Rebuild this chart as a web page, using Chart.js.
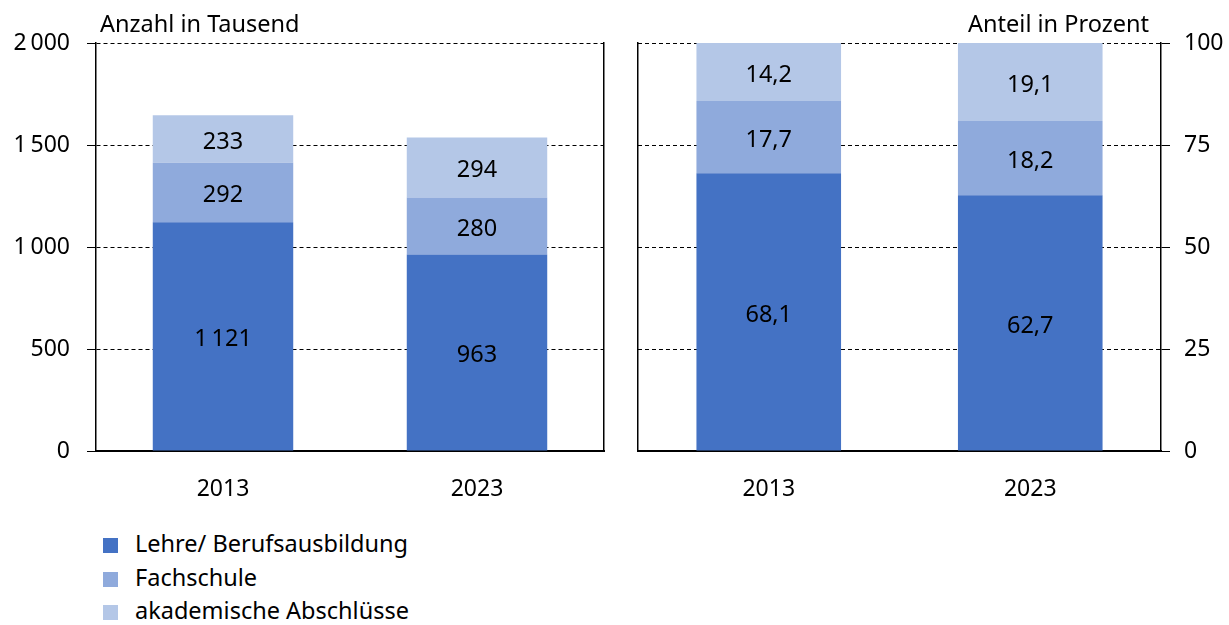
<!DOCTYPE html>
<html lang="de">
<head>
<meta charset="UTF-8">
<title>Anzahl und Anteil nach Abschluss</title>
<script src="https://cdn.jsdelivr.net/npm/chart.js"></script>
<style>
  body { margin: 0; background: #fff; font-family: "Noto Sans", sans-serif; }
  #wrap { position: relative; width: 1229px; height: 625px; }
  .panel { position: absolute; top: 0; height: 515px; }
  #links { left: 0; width: 615px; }
  #rechts { left: 620px; width: 609px; }
  .titel { position: absolute; top: 7px; font-size: 23.5px; color: #000; white-space: nowrap; }
  .legende { position: absolute; left: 103px; top: 527px; font-size: 23.5px; color: #000; }
  .legende div { height: 33.5px; line-height: 33.5px; white-space: nowrap; }
  .legende span { display: inline-block; width: 15px; height: 15px; margin-right: 17px; vertical-align: -1px; }
</style>
</head>
<body>
<div id="wrap">
  <div class="panel" id="links"><canvas id="chartAnzahl"></canvas></div>
  <div class="panel" id="rechts"><canvas id="chartAnteil"></canvas></div>
  <div class="titel" style="left:100px">Anzahl in Tausend</div>
  <div class="titel" style="right:80px">Anteil in Prozent</div>
  <div class="legende" id="legende"></div>
</div>

<script>
  // Daten
  const jahre = ['2013', '2023'];
  const abschluesse = ['Lehre/ Berufsausbildung', 'Fachschule', 'akademische Abschlüsse'];
  const lehreAnzahl = [1121, 963];
  const fachschuleAnzahl = [292, 280];
  const akademischAnzahl = [233, 294];
  const lehreAnteil = [68.1, 62.7];
  const fachschuleAnteil = [17.7, 18.2];
  const akademischAnteil = [14.2, 19.1];
  const ticksAnzahl = [0, 500, 1000, 1500, 2000];
  const ticksAnteil = [0, 25, 50, 75, 100];

  const farben = ['#4472C4', '#8FAADC', '#B4C7E7'];

  Chart.defaults.font.family = '"Noto Sans", sans-serif';
  Chart.defaults.font.size = 23;
  Chart.defaults.color = '#000';

  function tausender(v) {
    return String(v).replace(/\B(?=(\d{3})+(?!\d))/g, '\u2009');
  }
  function komma(v) {
    return v.toFixed(1).replace('.', ',');
  }

  // Werte in die Balken schreiben
  const balkenWerte = {
    id: 'balkenWerte',
    afterDatasetsDraw(chart, args, opts) {
      const ctx = chart.ctx;
      ctx.save();
      ctx.font = '23.5px "Noto Sans", sans-serif';
      ctx.fillStyle = '#000';
      ctx.textAlign = 'center';
      ctx.textBaseline = 'middle';
      chart.data.datasets.forEach(function (ds, i) {
        chart.getDatasetMeta(i).data.forEach(function (bar, j) {
          ctx.fillText(opts.format(ds.data[j]), bar.x, (bar.y + bar.base) / 2 + 3);
        });
      });
      ctx.restore();
    }
  };

  function datensaetze(werte) {
    return werte.map(function (d, i) {
      return {
        label: abschluesse[i],
        data: d,
        yAxisID: 'y',
        backgroundColor: farben[i],
        borderWidth: 0,
        barPercentage: 0.553,
        categoryPercentage: 1.0
      };
    });
  }

  function xAchse() {
    return {
      stacked: true,
      grid: { display: false, drawTicks: false },
      border: { display: true, color: '#000', width: 2 },
      ticks: { padding: 25 },
      afterFit(scale) { scale.height = 64; }
    };
  }

  function wertAchse(pos, tickWerte, breite, format) {
    return {
      position: pos,
      stacked: true,
      min: tickWerte[0],
      max: tickWerte[tickWerte.length - 1],
      afterBuildTicks(scale) { scale.ticks = tickWerte.map(v => ({ value: v })); },
      grid: { color: '#000', lineWidth: 1, tickColor: '#000', tickLength: 9, tickBorderDash: [] },
      border: { display: true, color: '#000', width: 1.5, dash: [4, 3] },
      ticks: { padding: pos === 'left' ? 17 : 14, callback: v => format(v) },
      afterFit(scale) { scale.width = breite; }
    };
  }

  function randAchse(pos, breite) {
    return {
      position: pos,
      stacked: true,
      grid: { display: false, drawTicks: false },
      border: { display: true, color: '#000', width: 1.5 },
      ticks: { display: false },
      afterFit(scale) { scale.width = breite; }
    };
  }

  new Chart(document.getElementById('chartAnzahl'), {
    type: 'bar',
    data: { labels: jahre, datasets: datensaetze([lehreAnzahl, fachschuleAnzahl, akademischAnzahl]) },
    options: {
      responsive: true,
      maintainAspectRatio: false,
      animation: false,
      layout: { padding: { top: 43, right: 11, left: 0, bottom: 0 } },
      plugins: { legend: { display: false }, tooltip: { enabled: false }, balkenWerte: { format: tausender } },
      scales: {
        x: xAchse(),
        y: wertAchse('left', ticksAnzahl, 96, tausender),
        rand: randAchse('right', 0)
      }
    },
    plugins: [balkenWerte]
  });

  new Chart(document.getElementById('chartAnteil'), {
    type: 'bar',
    data: { labels: jahre, datasets: datensaetze([lehreAnteil, fachschuleAnteil, akademischAnteil]) },
    options: {
      responsive: true,
      maintainAspectRatio: false,
      animation: false,
      layout: { padding: { top: 43, right: 0, left: 0, bottom: 0 } },
      plugins: { legend: { display: false }, tooltip: { enabled: false }, balkenWerte: { format: komma } },
      scales: {
        x: xAchse(),
        rand: randAchse('left', 18),
        y: wertAchse('right', ticksAnteil, 68, v => String(v))
      }
    },
    plugins: [balkenWerte]
  });

  // Legende
  const legende = document.getElementById('legende');
  abschluesse.forEach(function (name, i) {
    const zeile = document.createElement('div');
    zeile.innerHTML = '<span style="background:' + farben[i] + '"></span>' + name;
    legende.appendChild(zeile);
  });
</script>
</body>
</html>
